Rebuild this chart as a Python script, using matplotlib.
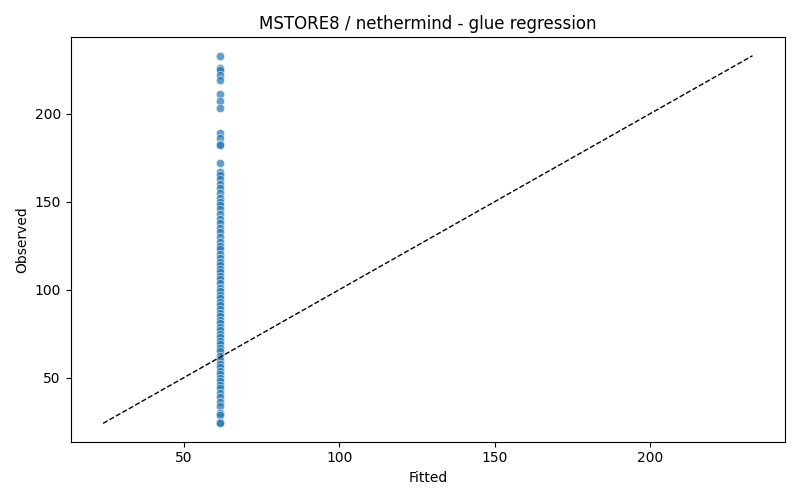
import numpy as np
import matplotlib.pyplot as plt
import seaborn as sns

observed = [233, 226, 225, 222, 219, 211, 207, 203, 189, 186, 183, 182, 172,
            167, 165, 163, 160, 158, 155, 152, 150, 148, 146, 143, 140, 138,
            135, 133, 130, 127, 125, 123, 120, 118, 116, 114, 112, 110, 108,
            106, 104, 101, 99, 97, 95, 93, 91, 89, 87, 85, 83, 81, 79, 77,
            75, 73, 71, 69, 67, 65, 62, 60, 58, 56, 54, 52, 50, 48, 46, 44,
            41, 39, 36, 34, 30, 29, 25, 24]
fitted_value = 61.5
fitted = [fitted_value] * len(observed)

fig, ax = plt.subplots(figsize=(8, 5), dpi=100)
sns.scatterplot(x=fitted, y=observed, alpha=0.7, ax=ax)
lo = min(min(fitted), min(observed))
hi = max(max(fitted), max(observed))
ax.plot([lo, hi], [lo, hi], "k--", linewidth=1)
ax.set_xlabel("Fitted")
ax.set_ylabel("Observed")
ax.set_title("MSTORE8 / nethermind - glue regression")
fig.tight_layout()
fig.savefig("out.png")
